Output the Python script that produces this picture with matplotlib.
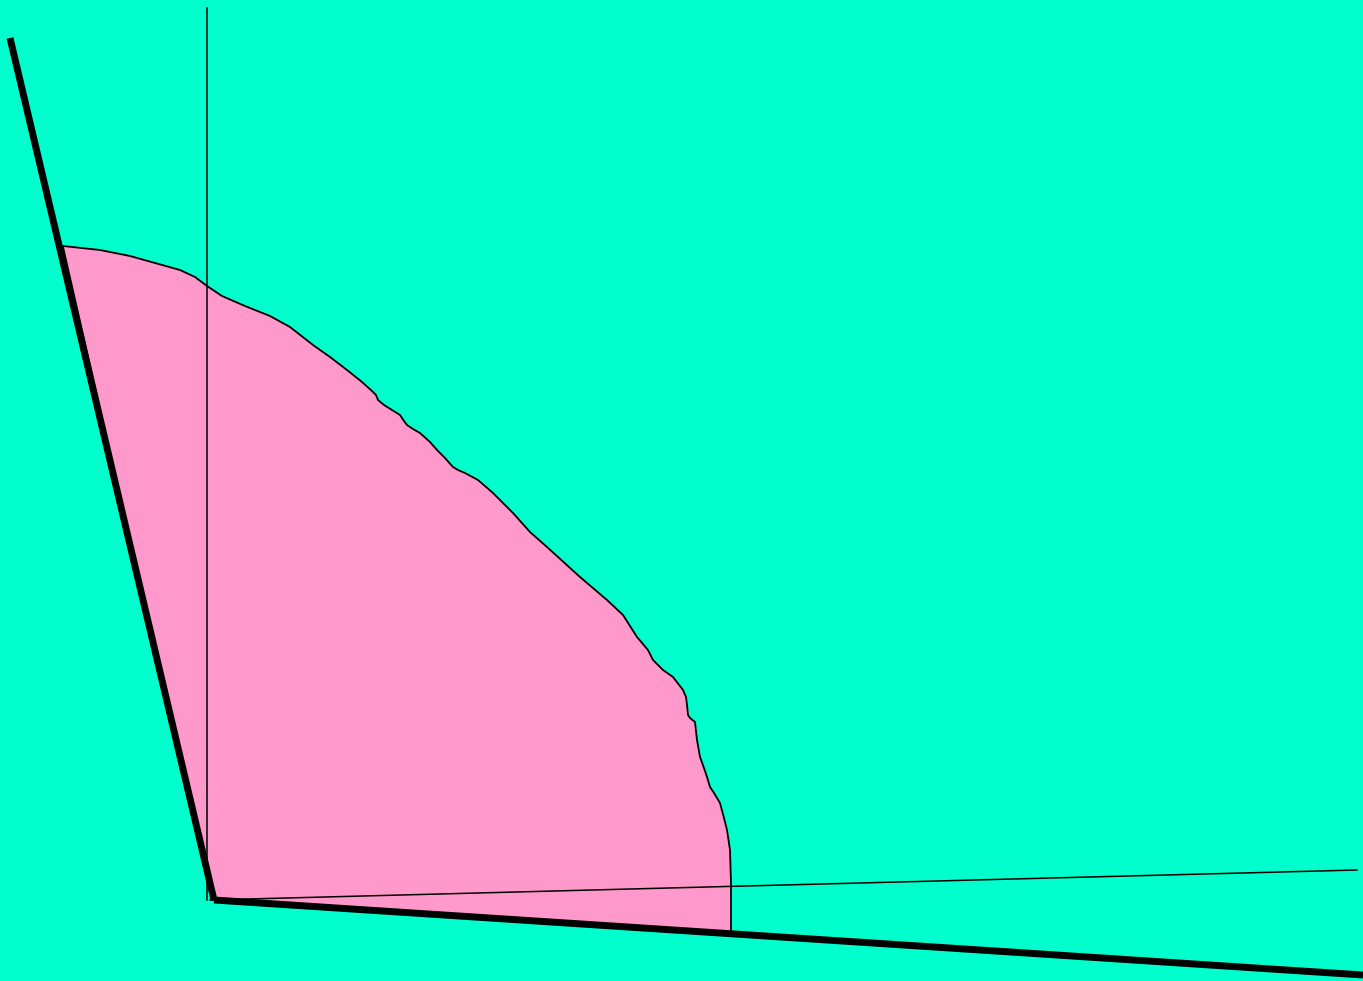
import matplotlib.pyplot as plt

# shape outline (x, y) in picture units, y grows downward
curve_x = [63, 100, 130, 155, 180, 195, 207, 222, 245, 270, 290, 313, 330, 347, 362, 372,
           376, 378, 384, 392, 400, 404, 407, 413, 420, 430, 437, 445, 453, 458, 465, 478,
           493, 500, 513, 530, 547, 580, 607, 623, 637, 648, 653, 663, 673, 683, 686, 687,
           688, 690, 695, 697, 700, 704, 707, 710, 714, 720, 724, 727, 730, 731, 731]
curve_y = [246, 250, 256, 263, 270, 277, 286, 296, 306, 316, 327, 345, 357, 370, 382, 391,
           395, 400, 405, 410, 415, 421, 425, 429, 433, 442, 450, 458, 467, 470, 473, 480,
           493, 500, 513, 532, 547, 577, 600, 615, 637, 650, 660, 670, 677, 690, 697, 705,
           715, 718, 722, 740, 757, 768, 777, 787, 793, 803, 818, 830, 850, 883, 932]
corner = (212, 900)

thin_v = ([207, 207], [8, 900])
thin_h = ([210, 1357], [900, 870])
thick_left = ([10, 214], [38, 900])
thick_bottom = ([214, 1363], [900, 975])

bg = '#00ffcc'
pink = '#ff99cc'

fig = plt.figure(figsize=(13.63, 9.81), dpi=100)
fig.patch.set_facecolor(bg)
ax = fig.add_axes([0, 0, 1, 1])
ax.set_facecolor(bg)
ax.set_xlim(0, 1363)
ax.set_ylim(981, 0)
ax.axis('off')

poly_x = curve_x + [corner[0], curve_x[0]]
poly_y = curve_y + [corner[1], curve_y[0]]
ax.fill(poly_x, poly_y, color=pink, zorder=1)
ax.plot(curve_x, curve_y, color='black', lw=1.3, solid_joinstyle='round', zorder=2)
ax.plot([curve_x[-1], corner[0], curve_x[0]], [curve_y[-1], corner[1], curve_y[0]],
        color='black', lw=1.0, zorder=2)

ax.plot(*thin_v, color='black', lw=1.1, zorder=3)
ax.plot(*thin_h, color='black', lw=1.1, zorder=3)
ax.plot(*thick_left, color='black', lw=5.0, solid_capstyle='butt', zorder=4)
ax.plot(*thick_bottom, color='black', lw=5.0, solid_capstyle='butt', zorder=4)

fig.savefig('out.png', dpi=100, facecolor=bg)
